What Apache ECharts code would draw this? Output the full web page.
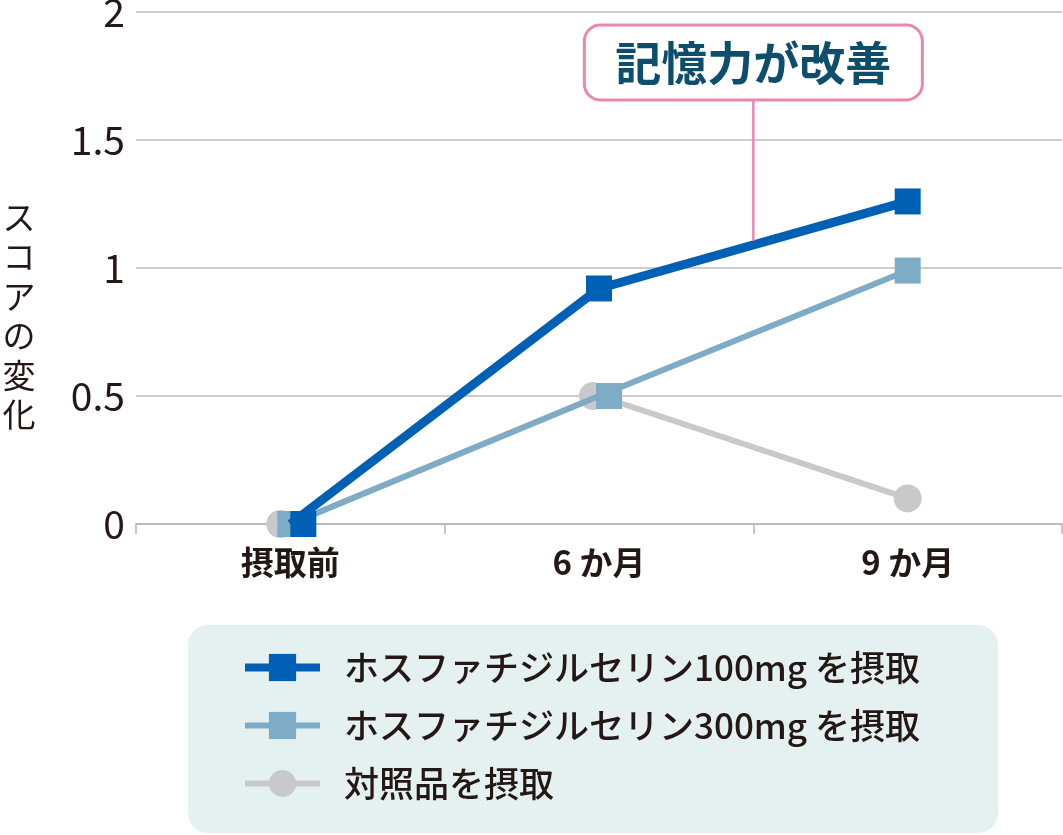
<!DOCTYPE html>
<html><head><meta charset="utf-8">
<script src="https://cdn.jsdelivr.net/npm/echarts@6/dist/echarts.min.js"></script>
<style>html,body{margin:0;padding:0;background:#fff}#c{width:1063px;height:835px}</style>
</head><body><div id="c"></div>
<script>
var categories = ['摂取前', '6 か月', '9 か月'];
var yTicks = [0, 0.5, 1, 1.5, 2];
var seriesNames = ['ホスファチジルセリン100mg を摂取', 'ホスファチジルセリン300mg を摂取', '対照品を摂取'];
var ps100 = [0, 0.92, 1.26];
var ps300 = [0, 0.5, 0.99];
var control = [0, 0.5, 0.1];
var calloutText = '記憶力が改善';
var yName = 'スコアの変化';

var FONT = '"Noto Sans CJK JP","Noto Sans",sans-serif';
var TXT = '#231815';
var C100 = '#0060b6', C300 = '#7eabc6', CCTL = '#c8c9ca';

// small marker shifts so overlapping markers peek out as in the original
function withOffsets(values, offsets) {
  return values.map(function (v, i) {
    return offsets[i] ? {value: v, symbolOffset: offsets[i]} : v;
  });
}

var chart = echarts.init(document.getElementById('c'), null, {renderer: 'canvas'});
var option = {
  animation: false,
  textStyle: {fontFamily: FONT},
  grid: {left: 136, right: 1, top: 12, bottom: 311, containLabel: false, outerBoundsMode: 'none'},
  xAxis: {
    type: 'category', data: categories, boundaryGap: true,
    axisLine: {lineStyle: {color: '#b5b5b5', width: 1.5}},
    axisTick: {show: true, length: 10, lineStyle: {color: '#b5b5b5', width: 1.5}},
    axisLabel: {color: TXT, fontSize: 33, fontWeight: 'bold', margin: 22, fontFamily: FONT}
  },
  yAxis: {
    type: 'value', min: yTicks[0], max: yTicks[yTicks.length - 1], interval: 0.5,
    name: '{p|}\n' + yName.split('').map(function (c) { return '{t|' + c + '}'; }).join('\n'),
    nameLocation: 'middle', nameRotate: 0, nameGap: 117,
    nameTextStyle: {color: TXT, fontSize: 33, fontFamily: FONT, align: 'center',
      rich: {p: {height: 96, lineHeight: 96, fontSize: 33},
             t: {fontSize: 33, lineHeight: 39.5, color: TXT, fontFamily: FONT, align: 'center'}}},
    axisLine: {show: false}, axisTick: {show: false},
    axisLabel: {color: TXT, fontSize: 39, margin: 11, fontFamily: FONT},
    splitLine: {lineStyle: {color: '#bdbdbd', width: 1.5}}
  },
  legend: {
    orient: 'vertical', left: 236, top: 645, itemWidth: 75, itemHeight: 34, itemGap: 23,
    data: [
      {name: seriesNames[0], lineStyle: {width: 8}},
      {name: seriesNames[1], lineStyle: {width: 6}},
      {name: seriesNames[2], lineStyle: {width: 6}}
    ],
    textStyle: {color: TXT, fontSize: 35, fontWeight: 500, padding: [0, 0, 0, 19], fontFamily: FONT}
  },
  series: [
    {name: seriesNames[2], type: 'line', data: withOffsets(control, [[-10, 0], [-6, 0], null]),
     symbol: 'circle', symbolSize: 28,
     lineStyle: {color: CCTL, width: 6}, itemStyle: {color: CCTL}, z: 2},
    {name: seriesNames[1], type: 'line', data: withOffsets(ps300, [null, [10, 0], null]),
     symbol: 'rect', symbolSize: 26,
     lineStyle: {color: C300, width: 6}, itemStyle: {color: C300}, z: 3},
    {name: seriesNames[0], type: 'line', data: withOffsets(ps100, [[13, 0], null, null]),
     symbol: 'rect', symbolSize: 26,
     lineStyle: {color: C100, width: 9}, itemStyle: {color: C100}, z: 4}
  ]
};
chart.setOption(option);

// annotation positions derived from the axes
var p1 = chart.convertToPixel({seriesIndex: 2}, [1, ps100[1]]);
var p2 = chart.convertToPixel({seriesIndex: 2}, [2, ps100[2]]);
var mx = (p1[0] + p2[0]) / 2, my = (p1[1] + p2[1]) / 2;
var boxW = 338, boxH = 75, boxTop = 25;
chart.setOption({
  graphic: [
    {type: 'rect', z: 0, silent: true, shape: {x: 188, y: 625, width: 810, height: 208, r: 20},
     style: {fill: '#e4f1f0'}},
    {type: 'line', z: 10, silent: true,
     shape: {x1: mx, y1: boxTop + boxH, x2: mx, y2: my - 4},
     style: {stroke: '#e987b3', lineWidth: 2.5}},
    {type: 'rect', z: 10, silent: true,
     shape: {x: mx - boxW / 2, y: boxTop, width: boxW, height: boxH, r: 16},
     style: {fill: '#fff', stroke: '#e987b3', lineWidth: 3}},
    {type: 'text', z: 11, silent: true, x: mx, y: boxTop + boxH / 2,
     style: {text: calloutText, fill: '#0c4e6b', font: 'bold 46px ' + FONT, align: 'center', verticalAlign: 'middle'}}
  ]
});
</script></body></html>
